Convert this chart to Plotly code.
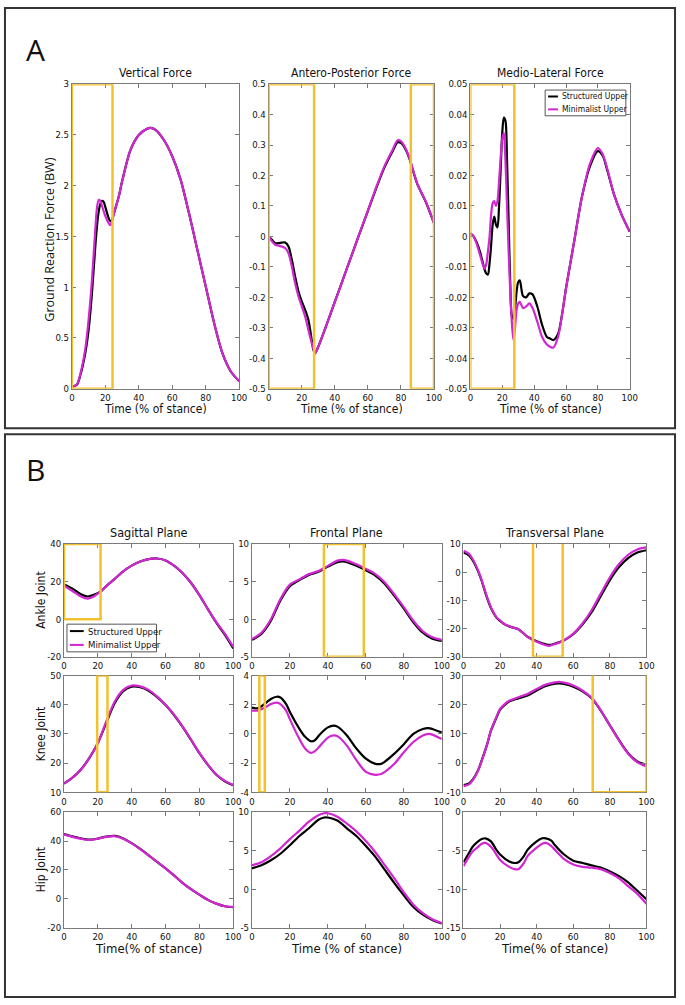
import plotly.graph_objects as go

FIG_W, FIG_H = 685, 1005

# ------------------------------------------------------------------ data
series_names = ["Structured Upper", "Minimalist Upper"]

# Panel A: ground reaction forces (BW)
t_vertical = [0, 3, 5, 8, 10, 12, 14, 15, 16, 17, 18, 19, 20, 22, 23, 24, 25, 28, 30, 35,
              40, 45, 47, 50, 55, 60, 65, 70, 75, 80, 85, 90, 95, 100]
vertical_structured = [0.02, 0.04, 0.13, 0.35, 0.58, 0.94, 1.40, 1.60, 1.74, 1.82, 1.85, 1.84, 1.79,
                       1.68, 1.65, 1.66, 1.72, 1.89, 2.04, 2.35, 2.50, 2.56, 2.57, 2.55, 2.45, 2.29,
                       2.06, 1.73, 1.37, 1.01, 0.65, 0.35, 0.17, 0.075]
vertical_minimalist = [0.02, 0.04, 0.14, 0.39, 0.68, 1.07, 1.57, 1.78, 1.86, 1.85, 1.80, 1.75, 1.70,
                       1.63, 1.61, 1.65, 1.72, 1.89, 2.04, 2.35, 2.50, 2.56, 2.57, 2.55, 2.45, 2.29,
                       2.06, 1.73, 1.37, 1.01, 0.65, 0.35, 0.17, 0.075]

t_antpost = [0, 2, 4, 6, 8, 10, 12, 14, 16, 18, 20, 22, 24, 26, 27, 28, 30, 35, 40, 45, 50, 55,
             60, 65, 70, 75, 78, 80, 82, 85, 88, 90, 95, 100]
antpost_structured = [0.0, -0.011, -0.022, -0.022, -0.020, -0.020, -0.033, -0.076, -0.131, -0.180,
                      -0.213, -0.240, -0.273, -0.338, -0.371, -0.383, -0.362, -0.290, -0.215, -0.140,
                      -0.065, 0.010, 0.083, 0.157, 0.226, 0.280, 0.309, 0.307, 0.294, 0.258, 0.204,
                      0.171, 0.114, 0.044]
antpost_minimalist = [0.0, -0.016, -0.027, -0.030, -0.033, -0.038, -0.055, -0.098, -0.153, -0.196,
                      -0.229, -0.262, -0.306, -0.349, -0.366, -0.385, -0.362, -0.290, -0.215, -0.140,
                      -0.065, 0.010, 0.085, 0.160, 0.230, 0.285, 0.316, 0.313, 0.298, 0.260, 0.205,
                      0.172, 0.115, 0.045]

t_medlat = [0, 2, 4, 6, 8, 9, 10, 11, 12, 13, 14, 15, 16, 17, 18, 19, 20, 21, 22, 23, 24, 25, 26,
            27, 28, 29, 30, 31, 33, 35, 37, 39, 42, 45, 48, 50, 52, 55, 58, 60, 65, 70, 75, 80,
            83, 86, 90, 95, 100]
medlat_structured = [0.001, 0.0, -0.002, -0.005, -0.009, -0.011, -0.0122, -0.0125, -0.009, -0.003,
                     0.004, 0.0065, 0.004, 0.003, 0.010, 0.022, 0.034, 0.039, 0.038, 0.025, 0.005,
                     -0.015, -0.026, -0.027, -0.024, -0.018, -0.015, -0.0144, -0.0195, -0.020,
                     -0.0187, -0.019, -0.023, -0.029, -0.033, -0.0335, -0.034, -0.032, -0.024,
                     -0.017, -0.002, 0.013, 0.023, 0.028, 0.0265, 0.0215, 0.014, 0.007, 0.0015]
medlat_minimalist = [0.001, 0.0, -0.0025, -0.006, -0.0095, -0.0106, -0.009, -0.005, -0.0003, 0.007,
                     0.011, 0.0116, 0.010, 0.0116, 0.018, 0.026, 0.032, 0.034, 0.025, 0.010, -0.005,
                     -0.018, -0.028, -0.034, -0.030, -0.024, -0.022, -0.0215, -0.0235, -0.023,
                     -0.022, -0.0235, -0.028, -0.033, -0.0355, -0.0362, -0.0365, -0.033, -0.024,
                     -0.017, -0.002, 0.013, 0.0238, 0.029, 0.027, 0.022, 0.014, 0.007, 0.0015]

# Panel B: joint angles (deg)
t_ankle_sag = [0, 5, 10, 14, 18, 22, 25, 30, 35, 40, 45, 50, 55, 60, 65, 70, 75, 80, 85, 90, 95, 100]
ankle_sag_structured = [18.5, 16.3, 13.3, 12.1, 13.1, 15.0, 17.6, 21.5, 25.5, 28.5, 30.7, 32.0, 32.3,
                        31.3, 28.5, 24.6, 19.4, 12.8, 5.4, -1.8, -8.2, -15.5]
ankle_sag_minimalist = [17.8, 15.0, 12.1, 11.0, 12.4, 15.0, 17.6, 21.5, 25.5, 28.5, 30.7, 32.0, 32.3,
                        31.3, 28.5, 24.6, 19.4, 12.8, 5.4, -1.6, -7.7, -14.7]

t_ankle_front = [0, 5, 10, 15, 20, 25, 30, 35, 40, 45, 48, 50, 55, 60, 65, 70, 75, 80, 85, 90, 95, 100]
ankle_front_structured = [-2.75, -1.95, -0.2, 2.5, 4.4, 5.2, 5.9, 6.3, 7.0, 7.6, 7.7, 7.6, 7.1, 6.5,
                          5.8, 4.7, 3.1, 1.4, -0.4, -1.8, -2.6, -2.9]
ankle_front_minimalist = [-2.65, -1.8, 0.0, 2.7, 4.6, 5.3, 6.0, 6.4, 7.1, 7.8, 7.9, 7.8, 7.3, 6.7,
                          6.0, 4.9, 3.3, 1.6, -0.2, -1.6, -2.4, -2.75]

t_ankle_trans = [0, 3, 5, 8, 10, 12, 15, 18, 20, 22, 25, 28, 30, 33, 35, 40, 45, 47, 50, 55, 60, 65,
                 70, 75, 80, 85, 90, 95, 100]
ankle_trans_structured = [7.0, 6.0, 4.3, 0.3, -3.2, -7.4, -12.7, -16.1, -17.3, -18.3, -19.2, -19.8,
                          -20.2, -21.8, -22.9, -24.5, -25.6, -25.8, -25.3, -24.1, -22.0, -18.6, -14.2,
                          -8.5, -2.8, 1.8, 5.0, 7.0, 7.8]
ankle_trans_minimalist = [7.6, 6.5, 4.7, 0.6, -2.9, -7.1, -12.4, -15.9, -17.1, -18.2, -19.2, -19.8,
                          -20.2, -21.8, -22.9, -24.7, -25.9, -26.1, -25.5, -24.1, -21.8, -18.2, -13.5,
                          -7.6, -1.8, 2.9, 6.2, 8.1, 8.8]

t_knee_sag = [0, 5, 10, 15, 20, 25, 30, 35, 40, 45, 50, 55, 60, 65, 70, 75, 80, 85, 90, 95, 100]
knee_sag_structured = [13.0, 15.0, 17.8, 21.8, 26.9, 33.8, 40.6, 44.7, 46.2, 46.0, 44.8, 42.6, 39.9,
                       36.5, 32.5, 28.0, 23.4, 19.4, 16.0, 13.8, 12.4]
knee_sag_minimalist = [13.0, 15.0, 17.8, 21.8, 26.9, 34.3, 41.1, 45.1, 46.6, 46.3, 45.1, 42.8, 40.0,
                       36.6, 32.6, 28.1, 23.5, 19.5, 16.1, 13.9, 12.5]

t_knee_front = [0, 3, 5, 8, 10, 13, 15, 18, 20, 25, 28, 31, 33, 36, 40, 43, 45, 50, 55, 60, 65, 68,
                70, 75, 80, 85, 90, 93, 95, 100]
knee_front_structured = [1.8, 1.76, 1.9, 2.2, 2.4, 2.55, 2.5, 2.05, 1.5, 0.35, -0.2, -0.5, -0.45, 0.0,
                         0.45, 0.57, 0.5, -0.1, -1.0, -1.7, -2.05, -2.05, -1.9, -1.35, -0.7, 0.0,
                         0.34, 0.4, 0.34, 0.1]
knee_front_minimalist = [1.6, 1.6, 1.7, 1.9, 2.05, 2.15, 2.05, 1.6, 1.0, -0.35, -1.0, -1.3, -1.2, -0.8,
                         -0.25, -0.1, -0.15, -0.8, -1.8, -2.6, -2.8, -2.75, -2.6, -2.05, -1.25,
                         -0.55, -0.1, 0.0, -0.05, -0.35]

t_knee_trans = [0, 3, 5, 8, 10, 13, 15, 18, 20, 23, 25, 30, 35, 40, 45, 50, 53, 55, 60, 65, 70, 75,
                80, 85, 90, 95, 100]
knee_trans_structured = [-7.5, -7.0, -5.7, -2.4, 1.0, 6.6, 11.1, 15.6, 18.3, 20.2, 21.1, 22.2, 23.2,
                         24.9, 26.4, 27.2, 27.3, 27.1, 26.2, 24.6, 22.2, 18.0, 12.9, 7.9, 3.4, 0.6, -0.5]
knee_trans_minimalist = [-7.9, -7.3, -5.9, -2.5, 0.9, 6.6, 11.2, 15.8, 18.6, 20.5, 21.4, 22.6, 23.7,
                         25.4, 26.9, 27.7, 27.8, 27.6, 26.6, 24.9, 22.4, 18.1, 12.9, 7.8, 3.2, 0.3, -1.1]

t_hip_sag = [0, 5, 10, 15, 20, 25, 30, 35, 40, 45, 50, 55, 60, 65, 70, 75, 80, 85, 90, 95, 100]
hip_sag_structured = [44.8, 43.2, 41.8, 40.9, 41.7, 43.0, 43.5, 41.8, 38.5, 34.5, 30.1, 25.6, 21.1,
                      16.2, 11.1, 6.7, 2.9, -0.7, -3.3, -5.1, -5.7]
hip_sag_minimalist = [44.4, 42.9, 41.6, 40.7, 41.6, 42.9, 43.3, 41.6, 38.4, 34.4, 30.0, 25.6, 21.1,
                      16.2, 11.1, 6.7, 2.9, -0.7, -3.3, -5.1, -5.6]

t_hip_front = [0, 5, 10, 15, 20, 25, 30, 35, 38, 40, 45, 50, 55, 60, 65, 70, 75, 80, 85, 90, 95, 100]
hip_front_structured = [2.7, 3.1, 3.75, 4.6, 5.7, 6.9, 7.9, 9.0, 9.3, 9.3, 8.9, 7.9, 6.9, 5.6, 4.2,
                        2.5, 0.8, -0.8, -2.3, -3.3, -4.0, -4.45]
hip_front_minimalist = [3.1, 3.5, 4.3, 5.3, 6.5, 7.6, 8.75, 9.6, 9.85, 9.85, 9.4, 8.5, 7.5, 6.25, 4.8,
                        3.1, 1.4, -0.4, -2.0, -3.1, -3.9, -4.4]

t_hip_trans = [0, 3, 5, 8, 10, 12, 15, 18, 20, 25, 28, 30, 33, 35, 40, 43, 45, 48, 50, 55, 60, 65,
               70, 75, 80, 85, 90, 95, 100]
hip_trans_structured = [-6.5, -5.3, -4.5, -3.8, -3.5, -3.4, -3.8, -4.9, -5.5, -6.4, -6.6, -6.5, -5.7,
                        -4.9, -3.8, -3.4, -3.4, -3.7, -4.3, -5.5, -6.3, -6.6, -6.9, -7.2, -7.7, -8.3,
                        -9.1, -10.2, -11.3]
hip_trans_minimalist = [-7.0, -5.8, -5.1, -4.5, -4.1, -4.0, -4.5, -5.5, -6.2, -7.1, -7.4, -7.4, -6.6,
                        -5.7, -4.6, -4.1, -4.0, -4.4, -4.9, -6.1, -6.8, -7.1, -7.2, -7.4, -7.9, -8.6,
                        -9.6, -10.6, -11.9]

# tick labels
x_ticks = [0, 20, 40, 60, 80, 100]
x_ticklabels = ["0", "20", "40", "60", "80", "100"]
vertical_ticks = [0, 0.5, 1, 1.5, 2, 2.5, 3]
vertical_ticklabels = ["0", "0.5", "1", "1.5", "2", "2.5", "3"]
antpost_ticks = [-0.5, -0.4, -0.3, -0.2, -0.1, 0, 0.1, 0.2, 0.3, 0.4, 0.5]
antpost_ticklabels = ["-0.5", "-0.4", "-0.3", "-0.2", "-0.1", "0", "0.1", "0.2", "0.3", "0.4", "0.5"]
medlat_ticks = [-0.05, -0.04, -0.03, -0.02, -0.01, 0, 0.01, 0.02, 0.03, 0.04, 0.05]
medlat_ticklabels = ["-0.05", "-0.04", "-0.03", "-0.02", "-0.01", "0", "0.01", "0.02", "0.03", "0.04", "0.05"]
ankle_sag_ticks = [-20, 0, 20, 40]
ankle_front_ticks = [-5, 0, 5, 10]
ankle_trans_ticks = [-30, -20, -10, 0, 10]
knee_sag_ticks = [10, 20, 30, 40, 50]
knee_front_ticks = [-4, -2, 0, 2, 4]
knee_trans_ticks = [-10, 0, 10, 20, 30]
hip_sag_ticks = [-20, 0, 20, 40, 60]
hip_front_ticks = [-5, 0, 5, 10]
hip_trans_ticks = [-15, -10, -5, 0]

# highlighted (significant) intervals: (start %, end %, low, high)
vertical_highlight = [(0, 24.3, 0, 3)]
antpost_highlight = [(0, 27.5, -0.5, 0.5), (86, 100, -0.5, 0.5)]
medlat_highlight = [(0, 27.6, -0.05, 0.05)]
ankle_sag_highlight = [(0, 21.6, 0, 40)]
ankle_front_highlight = [(37.9, 58.9, -5, 10)]
ankle_trans_highlight = [(38, 54.2, -30, 11)]
knee_sag_highlight = [(19.6, 25.7, 10, 50)]
knee_front_highlight = [(3.9, 6.8, -4, 4)]
knee_trans_highlight = [(70.6, 100, -10, 30.6)]

titles_A = ["Vertical Force", "Antero-Posterior Force", "Medio-Lateral Force"]
titles_B = ["Sagittal Plane", "Frontal Plane", "Transversal Plane"]
row_labels_B = ["Ankle Joint", "Knee Joint", "Hip Joint"]
xlabels_A = ["Time (% of stance)", "Time (% of stance)", "Time (% of stance)"]
xlabels_B = ["Time(% of stance)", "Time (% of stance)", "Time(% of stance)"]

# ------------------------------------------------------------------ style
BLACK = "#000000"
MAGENTA = "#d126d1"
SERIES_COLORS = [BLACK, MAGENTA]
GOLD = "#f2c12e"
AXC = "#7a7a7a"
NARROW = "Liberation Sans Narrow, DejaVu Sans Condensed, Arial Narrow, Liberation Sans, sans-serif"
WIDE = "Open Sans, Noto Sans, sans-serif"


def px_x(v):
    return v / FIG_W


def px_y(v):
    return 1 - v / FIG_H


colA = [(70, 240), (270, 438), (475, 637)]
rowA = (79, 387)
colB = [(62, 234), (253, 446), (468, 654)]
rowB = [(544, 658), (677, 795), (815, 932)]

panels = [
    (t_vertical, vertical_structured, vertical_minimalist, [0, 3], vertical_ticks, vertical_ticklabels,
     vertical_highlight, colA[0], rowA),
    (t_antpost, antpost_structured, antpost_minimalist, [-0.5, 0.5], antpost_ticks, antpost_ticklabels,
     antpost_highlight, colA[1], rowA),
    (t_medlat, medlat_structured, medlat_minimalist, [-0.05, 0.05], medlat_ticks, medlat_ticklabels,
     medlat_highlight, colA[2], rowA),
    (t_ankle_sag, ankle_sag_structured, ankle_sag_minimalist, [-20, 40], ankle_sag_ticks, None,
     ankle_sag_highlight, colB[0], rowB[0]),
    (t_ankle_front, ankle_front_structured, ankle_front_minimalist, [-5, 10], ankle_front_ticks, None,
     ankle_front_highlight, colB[1], rowB[0]),
    (t_ankle_trans, ankle_trans_structured, ankle_trans_minimalist, [-30, 10], ankle_trans_ticks, None,
     ankle_trans_highlight, colB[2], rowB[0]),
    (t_knee_sag, knee_sag_structured, knee_sag_minimalist, [10, 50], knee_sag_ticks, None,
     knee_sag_highlight, colB[0], rowB[1]),
    (t_knee_front, knee_front_structured, knee_front_minimalist, [-4, 4], knee_front_ticks, None,
     knee_front_highlight, colB[1], rowB[1]),
    (t_knee_trans, knee_trans_structured, knee_trans_minimalist, [-10, 30], knee_trans_ticks, None,
     knee_trans_highlight, colB[2], rowB[1]),
    (t_hip_sag, hip_sag_structured, hip_sag_minimalist, [-20, 60], hip_sag_ticks, None,
     [], colB[0], rowB[2]),
    (t_hip_front, hip_front_structured, hip_front_minimalist, [-5, 10], hip_front_ticks, None,
     [], colB[1], rowB[2]),
    (t_hip_trans, hip_trans_structured, hip_trans_minimalist, [-15, 0], hip_trans_ticks, None,
     [], colB[2], rowB[2]),
]

fig = go.Figure()
layout = {}
shapes = []
annotations = []

for i, (t, s_vals, m_vals, yr, yt, ytl, hl, (xl, xr), (yt_px, yb_px)) in enumerate(panels):
    n = i + 1
    xa = "x" if n == 1 else f"x{n}"
    ya = "y" if n == 1 else f"y{n}"
    for name, vals, col in zip(series_names, (s_vals, m_vals), SERIES_COLORS):
        fig.add_trace(go.Scatter(
            x=t, y=vals, mode="lines", name=name, xaxis=xa, yaxis=ya,
            line=dict(color=col, width=2.2, shape="spline", smoothing=0.8),
            showlegend=False, hoverinfo="skip"))

    common = dict(showline=True, linecolor=AXC, linewidth=1, mirror="ticks", ticks="inside",
                  ticklen=4, tickcolor=AXC, showgrid=False, zeroline=False, fixedrange=True,
                  tickfont=dict(family=NARROW, size=9.5, color="#111111"))
    layout["xaxis" if n == 1 else f"xaxis{n}"] = dict(
        domain=[px_x(xl), px_x(xr)], range=[0, 100], anchor=ya,
        tickmode="array", tickvals=x_ticks, ticktext=x_ticklabels, **common)
    if ytl is None:
        ytl = [str(v) if v >= 0 else "-" + str(abs(v)) for v in yt]
    layout["yaxis" if n == 1 else f"yaxis{n}"] = dict(
        domain=[px_y(yb_px), px_y(yt_px)], range=yr, anchor=xa,
        tickmode="array", tickvals=yt, ticktext=ytl, **common)

    for (x0, x1, y0, y1) in hl:
        shapes.append(dict(type="rect", xref=xa, yref=ya, x0=x0, x1=x1, y0=y0, y1=y1,
                           line=dict(color=GOLD, width=2.5), fillcolor="rgba(0,0,0,0)",
                           layer="above"))

# panel frames
shapes.append(dict(type="rect", xref="paper", yref="paper", x0=px_x(2), x1=px_x(683),
                   y0=px_y(427), y1=px_y(2), line=dict(color="#333333", width=2)))
shapes.append(dict(type="rect", xref="paper", yref="paper", x0=px_x(2), x1=px_x(683),
                   y0=px_y(1002), y1=px_y(433), line=dict(color="#333333", width=2)))


def ann(text, x, y, size, family=NARROW, angle=0, xanchor="center"):
    annotations.append(dict(text=text, x=px_x(x), y=px_y(y), xref="paper", yref="paper",
                            showarrow=False, xanchor=xanchor, yanchor="middle",
                            textangle=angle, font=dict(family=family, size=size, color="#111111")))


# legends (boxed, as in the original figure)
def legend_box(x0, y0, x1, y1, size, line_len):
    shapes.append(dict(type="rect", xref="paper", yref="paper", x0=px_x(x0), x1=px_x(x1),
                       y0=px_y(y1), y1=px_y(y0), line=dict(color="#555555", width=1),
                       fillcolor="white", layer="above"))
    step = (y1 - y0) / 2
    for k, (name, col) in enumerate(zip(series_names, SERIES_COLORS)):
        yy = y0 + step * (k + 0.5)
        shapes.append(dict(type="line", xref="paper", yref="paper", x0=px_x(x0 + 3),
                           x1=px_x(x0 + 3 + line_len), y0=px_y(yy), y1=px_y(yy),
                           line=dict(color=col, width=2), layer="above"))
        ann(name, x0 + 5 + line_len, yy, size, xanchor="left")


legend_box(551, 85, 633, 111, 8.5, 10)
legend_box(65, 625, 156, 653, 9.5, 14)

ann("A", 33, 44, 30, WIDE)
ann("B", 33, 469, 30, WIDE)
for k, (xl, xr) in enumerate(colA):
    ann(titles_A[k], (xl + xr) / 2, 68, 12)
    ann(xlabels_A[k], (xl + xr) / 2, 407, 12)
ann("Ground Reaction Force (BW)", 47, 236, 12.5, WIDE, -90)
for k, (xl, xr) in enumerate(colB):
    ann(titles_B[k], (xl + xr) / 2, 532, 12.5)
    ann(xlabels_B[k], (xl + xr) / 2, 953, 13)
for k, (ytp, ybp) in enumerate(rowB):
    ann(row_labels_B[k], 39, (ytp + ybp) / 2, 12, NARROW, -90)

fig.update_layout(
    width=FIG_W, height=FIG_H, autosize=False,
    margin=dict(l=0, r=0, t=0, b=0),
    paper_bgcolor="white", plot_bgcolor="white",
    shapes=shapes, annotations=annotations, showlegend=False,
    **layout,
)

fig.write_html("out.html", post_script="document.body.style.margin='0';",
               config={"displayModeBar": False, "staticPlot": True})
